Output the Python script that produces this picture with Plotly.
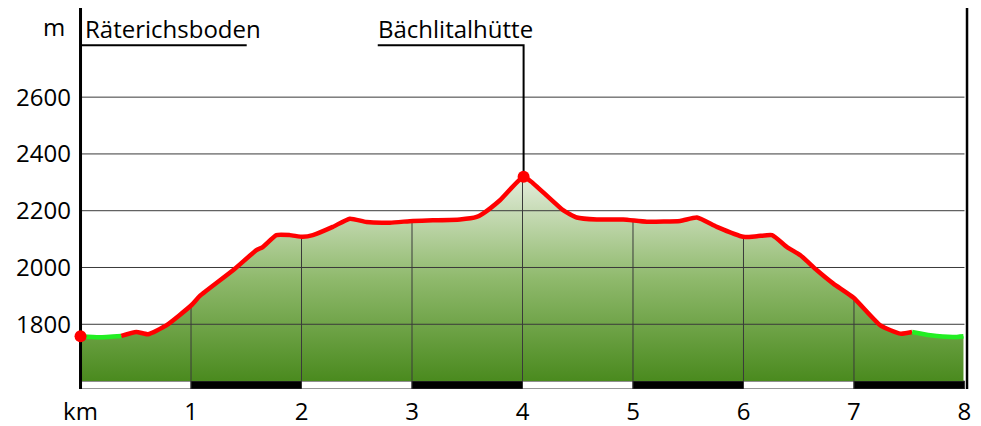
import numpy as np
import plotly.graph_objects as go

# ---- data ----
km = [0.0, 0.17, 0.369, 0.505, 0.61, 0.776, 1.003, 1.078, 1.38, 1.592, 1.649, 1.773,
      1.894, 2.011, 2.102, 2.283, 2.437, 2.588, 2.8, 3.008, 3.189, 3.434, 3.585, 3.642,
      3.796, 4.01, 4.095, 4.367, 4.491, 4.672, 4.911, 5.125, 5.427, 5.578, 5.759, 5.998,
      6.122, 6.258, 6.394, 6.515, 6.665, 6.813, 6.994, 7.239, 7.42, 7.526, 7.692, 7.9, 7.991]
elev = [1758, 1754, 1759, 1773, 1765, 1796, 1867, 1899, 1990, 2061, 2072, 2114,
        2114, 2108, 2114, 2143, 2172, 2160, 2158, 2164, 2166, 2169, 2178, 2190,
        2237, 2320, 2297, 2202, 2176, 2169, 2169, 2161, 2164, 2176, 2143, 2108,
        2110, 2114, 2072, 2043, 1990, 1943, 1894, 1796, 1767, 1773, 1761, 1755, 1758]
green_until_km = 0.369      # green section at start
green_from_km = 7.526       # green section at end
waypoint_km = [0.0, 4.01]
waypoint_elev = [1758, 2320]
waypoint_names = ["Räterichsboden", "Bächlitalhütte"]
x_ticks = [0, 1, 2, 3, 4, 5, 6, 7, 8]
x_ticktext = ["km", "1", "2", "3", "4", "5", "6", "7", "8"]
y_ticks = [1800, 2000, 2200, 2400, 2600]

# ---- layout constants ----
X_MIN, X_MAX = -0.05, 8.05
RIGHT_FRAME = 8.023
Y_BASE = 1600
Y_MIN, Y_MAX = 1572, 2914
LABEL_Y = 2783
FONT = "Open Sans"
FS = 24
SMOOTH = 0.5

km_a = np.array(km)
el_a = np.array(elev)

fig = go.Figure()

# baseline for fill
fig.add_trace(go.Scatter(x=[km[0], km[-1]], y=[Y_BASE, Y_BASE], mode="lines",
                         line=dict(width=0), hoverinfo="skip", showlegend=False))
# gradient fill
fig.add_trace(go.Scatter(x=km, y=elev, mode="lines",
                         line=dict(width=0, shape="spline", smoothing=SMOOTH), fill="tonexty",
                         fillgradient=dict(type="vertical",
                                           colorscale=[[0, "#4a8a1e"], [0.5, "#8fb96c"], [1, "#e4eddc"]]),
                         hoverinfo="skip", showlegend=False))

# horizontal grid lines (above fill)
gx, gy = [], []
for v in y_ticks:
    gx += [0, 8, None]
    gy += [v, v, None]
fig.add_trace(go.Scatter(x=gx, y=gy, mode="lines", line=dict(color="#3a3a3a", width=1),
                         hoverinfo="skip", showlegend=False))
# vertical grid lines up to the profile
vx, vy = [], []
for k in range(1, 8):
    vx += [k, k, None]
    vy += [Y_BASE, float(np.interp(k, km_a, el_a)), None]
fig.add_trace(go.Scatter(x=vx, y=vy, mode="lines", line=dict(color="#3a3a3a", width=1),
                         hoverinfo="skip", showlegend=False))

# callout lines for waypoints
fig.add_trace(go.Scatter(x=[waypoint_km[0], 1.504], y=[LABEL_Y, LABEL_Y], mode="lines",
                         line=dict(color="black", width=2), hoverinfo="skip", showlegend=False))
fig.add_trace(go.Scatter(x=[2.69, waypoint_km[1], waypoint_km[1]],
                         y=[LABEL_Y, LABEL_Y, waypoint_elev[1]], mode="lines",
                         line=dict(color="black", width=2), hoverinfo="skip", showlegend=False))

# frame lines (left and right)
fig.add_trace(go.Scatter(x=[0, 0], y=[Y_MIN, Y_MAX], mode="lines",
                         line=dict(color="black", width=3), hoverinfo="skip", showlegend=False))
fig.add_trace(go.Scatter(x=[RIGHT_FRAME, RIGHT_FRAME], y=[Y_MIN, Y_MAX], mode="lines",
                         line=dict(color="black", width=2.5), hoverinfo="skip", showlegend=False))

# profile line segments
i0 = km.index(green_until_km)
i1 = km.index(green_from_km)
seg_line = dict(width=4.5, shape="spline", smoothing=SMOOTH)
fig.add_trace(go.Scatter(x=km[:i0 + 1], y=elev[:i0 + 1], mode="lines",
                         line=dict(color="#22ee22", **seg_line), showlegend=False))
fig.add_trace(go.Scatter(x=km[i0:i1 + 1], y=elev[i0:i1 + 1], mode="lines",
                         line=dict(color="#ff0000", **seg_line), showlegend=False))
fig.add_trace(go.Scatter(x=km[i1:], y=elev[i1:], mode="lines",
                         line=dict(color="#22ee22", **seg_line), showlegend=False))
# waypoint markers
fig.add_trace(go.Scatter(x=waypoint_km, y=waypoint_elev, mode="markers", cliponaxis=False,
                         marker=dict(color="#ff0000", size=12), showlegend=False))

shapes = []
# scale bar
for k in range(8):
    black = (k % 2 == 1)
    shapes.append(dict(type="rect", xref="x", yref="y", x0=k, x1=k + 1, y0=Y_MIN, y1=Y_BASE,
                       fillcolor="black" if black else "white",
                       line=dict(color="#333", width=1), layer="below"))

annotations = [
    dict(x=waypoint_km[0], y=LABEL_Y, xref="x", yref="y", text=waypoint_names[0],
         xanchor="left", yanchor="bottom", showarrow=False, xshift=2, yshift=-2,
         font=dict(family=FONT, size=FS, color="black")),
    dict(x=2.69, y=LABEL_Y, xref="x", yref="y", text=waypoint_names[1],
         xanchor="left", yanchor="bottom", showarrow=False, xshift=-2, yshift=-2,
         font=dict(family=FONT, size=FS, color="black")),
    dict(x=0, y=1, xref="x", yref="paper", text="m", xanchor="right", yanchor="top",
         showarrow=False, xshift=-14, yshift=0, font=dict(family=FONT, size=FS, color="black")),
]

# the page body adds an 8px offset, so the figure is laid out 8px smaller/shifted
fig.update_layout(
    width=973, height=418,
    margin=dict(l=67.48, r=11.48, t=0, b=37, autoexpand=False),
    paper_bgcolor="white", plot_bgcolor="white",
    font=dict(family=FONT, size=FS, color="black"),
    shapes=shapes, annotations=annotations,
    xaxis=dict(range=[X_MIN, X_MAX], tickvals=x_ticks, ticktext=x_ticktext, showgrid=False,
               zeroline=False, showline=False, ticks="", ticklabelstandoff=6,
               automargin=False),
    yaxis=dict(range=[Y_MIN, Y_MAX], tickvals=y_ticks, showgrid=False, zeroline=False,
               showline=False, ticks="", ticklabelstandoff=3, automargin=False),
)

fig.write_html("out.html")
